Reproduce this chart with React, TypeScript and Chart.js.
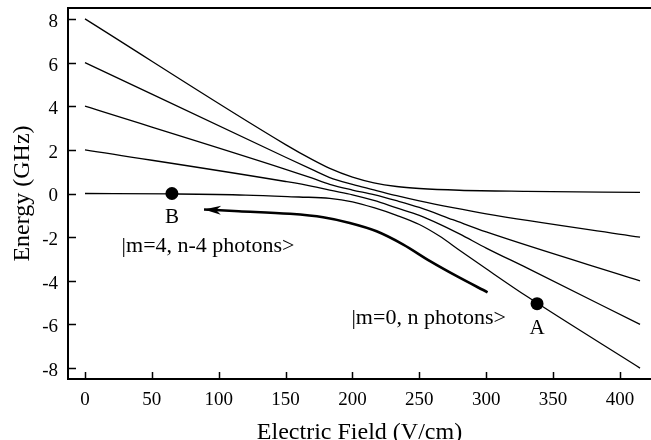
import React, { useEffect, useRef } from "react";
import { Chart, registerables } from "chart.js";

Chart.register(...registerables);

// Electric field (V/cm) sample positions and energies (GHz)
const curve1X = [0, 150, 170, 183, 200, 216, 233, 250, 280, 330, 415];
const curve1Y = [8, 2.24, 1.55, 1.15, 0.75, 0.49, 0.32, 0.23, 0.15, 0.1, 0.05];

const curve2X = [0, 150, 170, 183, 200, 216, 233, 250, 275, 300, 415];
const curve2Y = [6, 1.66, 1.09, 0.73, 0.42, 0.17, -0.1, -0.34, -0.65, -0.93, -2.0];

const curve3X = [0, 150, 170, 183, 200, 216, 233, 250, 275, 300, 415];
const curve3Y = [4, 1.11, 0.7, 0.42, 0.16, -0.05, -0.33, -0.64, -1.2, -1.76, -4.0];

const curve4X = [0, 150, 170, 183, 200, 216, 233, 250, 265, 280, 300, 330, 415];
const curve4Y = [2, 0.55, 0.33, 0.15, -0.06, -0.32, -0.66, -1.0, -1.4, -1.85, -2.5, -3.4, -6.0];

const curve5X = [0, 65, 120, 160, 183, 200, 216, 233, 250, 265, 280, 300, 330, 415];
const curve5Y = [0, -0.02, -0.07, -0.16, -0.22, -0.38, -0.65, -1.0, -1.42, -1.95, -2.6, -3.45, -4.7, -8.0];

// thick arrow path (head first)
const arrowX = [89, 115, 153, 178, 198, 218, 238, 258, 278, 301];
const arrowY = [-0.73, -0.81, -0.93, -1.09, -1.35, -1.73, -2.34, -3.1, -3.79, -4.53];

// marked states
const pointNames = ["B", "A"];
const pointX = [65, 338];
const pointY = [0, -5.05];

// axis ticks
const xTicks = [0, 50, 100, 150, 200, 250, 300, 350, 400];
const yTicks = [-8, -6, -4, -2, 0, 2, 4, 6, 8];

// text annotations in data coordinates
const noteText = ["B", "A", "|m=4, n-4 photons>", "|m=0, n photons>"];
const noteX = [65, 338, 92, 257];
const noteY = [-1.08, -6.19, -2.4, -5.72];

const SERIF = '"Liberation Serif", "Times New Roman", serif';

const zip = (xs: number[], ys: number[]) => xs.map((x, i) => ({ x, y: ys[i] }));

export default function App() {
  const ref = useRef<HTMLCanvasElement | null>(null);

  useEffect(() => {
    document.body.style.margin = "0";
    const canvas = ref.current;
    if (!canvas) return;

    const lineDs = (xs: number[], ys: number[]) => ({
      data: zip(xs, ys),
      borderColor: "#000",
      borderWidth: 1.3,
      pointRadius: 0,
      cubicInterpolationMode: "monotone" as const,
      fill: false,
    });

    const extras = {
      id: "extras",
      afterDraw(chart: any) {
        const { ctx, chartArea, scales } = chart;
        const xs = scales.x;
        const ys = scales.y;
        ctx.save();
        ctx.strokeStyle = "#000";
        // top spine
        ctx.lineWidth = 2;
        ctx.beginPath();
        ctx.moveTo(chartArea.left - 1, chartArea.top);
        ctx.lineTo(chartArea.right, chartArea.top);
        ctx.stroke();
        // inward ticks
        ctx.lineWidth = 1.5;
        ctx.beginPath();
        xTicks.forEach((v) => {
          const px = Math.round(xs.getPixelForValue(v)) + 0.5;
          ctx.moveTo(px, chartArea.bottom);
          ctx.lineTo(px, chartArea.bottom - 7);
        });
        yTicks.forEach((v) => {
          const py = Math.round(ys.getPixelForValue(v)) + 0.5;
          ctx.moveTo(chartArea.left, py);
          ctx.lineTo(chartArea.left + 8, py);
        });
        ctx.stroke();

        // arrow head
        const meta = chart.getDatasetMeta(5);
        if (meta && meta.data.length > 1) {
          const p0 = meta.data[0];
          const p1 = meta.data[1];
          let ux = p1.x - p0.x;
          let uy = p1.y - p0.y;
          const len = Math.hypot(ux, uy) || 1;
          ux /= len;
          uy /= len;
          const nx = -uy;
          const ny = ux;
          const L = 17;
          const W = 4.5;
          const N = 12;
          ctx.fillStyle = "#000";
          ctx.beginPath();
          ctx.moveTo(p0.x, p0.y);
          ctx.lineTo(p0.x + ux * L + nx * W, p0.y + uy * L + ny * W);
          ctx.lineTo(p0.x + ux * N, p0.y + uy * N);
          ctx.lineTo(p0.x + ux * L - nx * W, p0.y + uy * L - ny * W);
          ctx.closePath();
          ctx.fill();
        }

        // annotations
        ctx.fillStyle = "#000";
        ctx.textAlign = "center";
        ctx.textBaseline = "middle";
        noteText.forEach((t, i) => {
          const size = t.length === 1 ? 21 : 22;
          ctx.font = `${size}px ${SERIF}`;
          ctx.fillText(t, xs.getPixelForValue(noteX[i]), ys.getPixelForValue(noteY[i]));
        });
        ctx.restore();
      },
    };

    const chart = new Chart(canvas, {
      type: "line",
      data: {
        datasets: [
          lineDs(curve1X, curve1Y),
          lineDs(curve2X, curve2Y),
          lineDs(curve3X, curve3Y),
          lineDs(curve4X, curve4Y),
          lineDs(curve5X, curve5Y),
          {
            data: zip(arrowX, arrowY),
            borderColor: "#000",
            borderWidth: 2.6,
            pointRadius: 0,
            cubicInterpolationMode: "monotone" as const,
            fill: false,
          },
          {
            label: pointNames.join(","),
            data: zip(pointX, pointY),
            showLine: false,
            pointRadius: 6.5,
            pointBackgroundColor: "#000",
            pointBorderColor: "#000",
            borderWidth: 0,
          },
        ] as any,
      },
      options: {
        animation: false,
        responsive: true,
        maintainAspectRatio: false,
        layout: { autoPadding: false, padding: { top: 8, left: 0, right: 0, bottom: 0 } },
        plugins: {
          legend: { display: false },
          tooltip: { enabled: false },
        },
        scales: {
          x: {
            type: "linear",
            min: -12.7,
            max: 423.2,
            grid: { display: false, drawTicks: false },
            border: { display: true, color: "#000", width: 2 },
            afterBuildTicks: (s: any) => {
              s.ticks = xTicks.map((v) => ({ value: v }));
            },
            afterFit: (s: any) => {
              s.height = 61;
              s.paddingLeft = 0;
              s.paddingRight = 0;
            },
            ticks: {
              color: "#000",
              font: { family: SERIF, size: 19 },
              padding: 10,
              maxRotation: 0,
              autoSkip: false,
            },
            title: {
              display: true,
              text: "Electric Field (V/cm)",
              color: "#000",
              font: { family: SERIF, size: 24 },
              padding: { top: 0, bottom: -7 },
            },
          },
          y: {
            type: "linear",
            min: -8.5,
            max: 8.5,
            grid: { display: false, drawTicks: false },
            border: { display: true, color: "#000", width: 2 },
            afterBuildTicks: (s: any) => {
              s.ticks = yTicks.map((v) => ({ value: v }));
            },
            afterFit: (s: any) => {
              s.width = 68;
              s.paddingTop = 0;
              s.paddingBottom = 0;
            },
            ticks: {
              color: "#000",
              font: { family: SERIF, size: 19 },
              padding: 10,
              labelOffset: 3,
              autoSkip: false,
            },
            title: {
              display: true,
              text: "Energy (GHz)",
              color: "#000",
              font: { family: SERIF, size: 24 },
              padding: { top: 8, bottom: 0 },
            },
          },
        },
      },
      plugins: [extras],
    });

    return () => chart.destroy();
  }, []);

  return (
    <div style={{ position: "relative", width: 651, height: 440 }}>
      <canvas ref={ref} />
    </div>
  );
}
